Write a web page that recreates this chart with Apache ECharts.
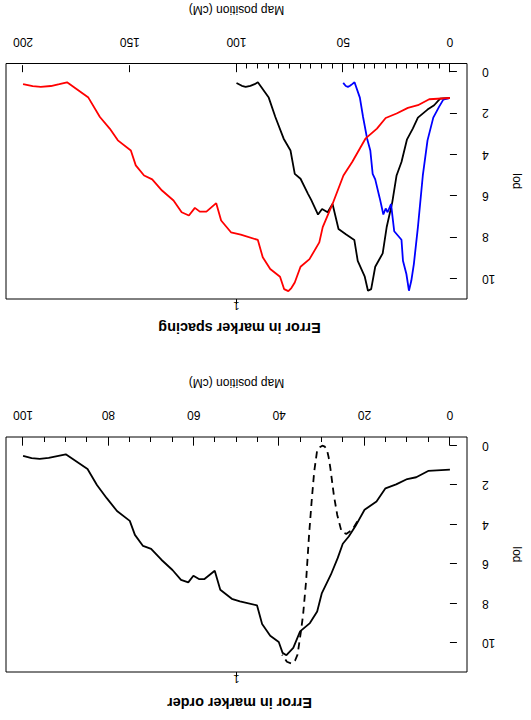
<!DOCTYPE html>
<html>
<head>
<meta charset="utf-8">
<script src="https://cdn.jsdelivr.net/npm/echarts@6/dist/echarts.min.js"></script>
<style>
  html, body { margin: 0; padding: 0; background: #fff; overflow: hidden; }
  #wrap { width: 531px; height: 720px; transform: rotate(180deg); transform-origin: 50% 50%; }
  #chart { width: 531px; height: 720px; }
</style>
</head>
<body>
<div id="wrap"><div id="chart"></div></div>
<script>
// ---------- data ----------
const markerPos = [0, 5, 10, 15, 20, 25, 30, 35, 40, 45, 50, 55, 60, 65, 70, 75, 80, 85, 90, 95, 100];
const orderXTicks = [0, 20, 40, 60, 80, 100];
const spacingXTicks = [0, 50, 100, 150, 200];
const lodTicks = [0, 2, 4, 6, 8, 10];
const chromLabel = '1';
const orderChromMid = 50;
const spacingChromMid = 100;

// Error in marker order: solid curve
const orderSolidPos = [0, 5.1, 7.9, 10, 12.6, 15.1, 17.2, 20, 22.2, 23.7, 25.1, 26.3, 27.9, 30, 31.1, 32.8, 35.1, 36.7, 38.3, 39.2, 40.1, 42.1, 44, 45.2, 49.2, 51.1, 53.8, 55.1, 57.5, 58.8, 60.1, 61.3, 63, 65, 67.6, 70, 71.9, 73.8, 75, 78, 80.4, 82.7, 84.9, 90, 92, 94, 96.1, 98, 100];
const orderSolidLod = [1.21, 1.28, 1.6, 1.69, 1.96, 2.16, 2.83, 3.25, 4.1, 4.6, 4.97, 5.7, 6.54, 7.47, 8.4, 8.99, 9.41, 10.25, 10.62, 10.5, 9.95, 9.63, 9.04, 8.09, 7.89, 7.76, 7.3, 6.34, 6.76, 6.76, 6.59, 6.93, 6.8, 6.3, 5.78, 5.23, 5.08, 4.52, 3.81, 3.31, 2.66, 1.99, 1.18, 0.44, 0.53, 0.62, 0.67, 0.63, 0.52];
// Error in marker order: dashed curve
const orderDashPos = [21.7, 22.9, 24.3, 25.4, 26.4, 27.2, 28, 28.4, 28.8, 29.3, 29.9, 30.5, 31.1, 31.8, 32.4, 33, 33.7, 34.4, 34.9, 35.7, 36.3, 37.1, 38.2, 39.3];
const orderDashLod = [3.84, 4.27, 4.47, 4.35, 3.51, 2.5, 1.15, 0.6, 0.22, 0.05, 0.0, 0.08, 0.22, 1.32, 2.83, 4.52, 6.88, 8.57, 9.41, 10.59, 10.9, 11.04, 10.95, 10.6];

// Error in marker spacing
const spacingBlackPos = [0, 4.6, 7.4, 10.5, 15, 17.4, 20.1, 22.7, 25, 27, 29.6, 31.5, 35, 36.9, 38.4, 39.9, 43.2, 44.8, 48.6, 52.2, 55, 57.3, 59.9, 61.8, 65, 66.5, 70, 72.7, 74.7, 77.9, 81.8, 84.9, 90, 91.5, 93.5, 95.7, 97.5, 100];
const spacingBlackLod = [1.25, 1.28, 1.6, 1.81, 2.2, 2.73, 3.25, 4.35, 5.0, 6.29, 7.48, 8.77, 9.42, 10.5, 10.58, 9.9, 9.13, 8.12, 7.86, 7.59, 6.38, 6.78, 6.62, 6.89, 6.18, 5.89, 5.16, 4.92, 3.79, 3.22, 2.17, 1.23, 0.49, 0.58, 0.66, 0.71, 0.66, 0.52];
const spacingBluePos = [0, 3.1, 5.1, 7.8, 10.5, 12.7, 15, 16.9, 18.1, 19.2, 20.4, 22, 22.7, 26.1, 27.6, 29.2, 30.1, 31.2, 32.7, 33.2, 35, 36.2, 37.3, 38.8, 40.7, 42.2, 44.7, 45.8, 46.8, 47.8, 48.8, 50];
const spacingBlueLod = [1.25, 1.33, 1.68, 2.2, 3.3, 5.0, 7.5, 9.29, 10.1, 10.58, 9.77, 9.13, 8.11, 7.7, 6.38, 6.78, 6.6, 6.89, 6.18, 5.97, 5.19, 4.92, 3.79, 3.22, 2.17, 1.23, 0.49, 0.58, 0.66, 0.71, 0.67, 0.52];
const spacingRedPos = [0, 9.7, 15, 19.7, 25, 30.1, 34.2, 39.6, 45.8, 49.9, 55, 59.6, 61.2, 65.8, 70, 72.7, 74.3, 75.7, 77.7, 79.6, 84.2, 87.7, 90, 98, 102.6, 107.2, 109.5, 114.1, 117.2, 119.5, 122.3, 125.7, 129.5, 134.9, 139.5, 143.3, 147.2, 149.5, 155.6, 159.4, 164, 169.4, 179.4, 183, 187, 191.7, 195.5, 200];
const spacingRedLod = [1.25, 1.31, 1.6, 1.73, 2.0, 2.22, 2.73, 3.22, 4.35, 5.0, 6.38, 7.5, 8.24, 9.05, 9.42, 10.18, 10.45, 10.6, 10.5, 9.9, 9.53, 8.96, 8.12, 7.86, 7.75, 7.18, 6.34, 6.75, 6.75, 6.57, 6.94, 6.78, 6.21, 5.73, 5.19, 5.0, 4.51, 3.79, 3.30, 2.73, 2.17, 1.23, 0.49, 0.58, 0.67, 0.71, 0.68, 0.58];

// ---------- helpers ----------
function zip(a, b) { return a.map((v, i) => [v, b[i]]); }
const FONT = "'Liberation Sans', Arial, Helvetica, sans-serif";
const txt = { color: '#000', fontFamily: FONT, fontSize: 12 };

function xAxesFor(gridIndex, min, max, ticks, mid) {
  return [
    { gridIndex, type: 'value', min, max, position: 'bottom',
      axisLine: { show: false },
      axisTick: { show: true, customValues: ticks, length: 7, lineStyle: { color: '#000', width: 1 } },
      axisLabel: Object.assign({ customValues: ticks, margin: 16 }, txt),
      splitLine: { show: false },
      name: 'Map position (cM)', nameLocation: 'middle', nameGap: 48,
      nameTextStyle: txt },
    { gridIndex, type: 'value', min, max, position: 'bottom',
      axisLine: { show: false },
      axisTick: { show: true, inside: true, customValues: markerPos, length: 5, lineStyle: { color: '#000', width: 1 } },
      axisLabel: { show: false },
      splitLine: { show: false } },
    { gridIndex, type: 'value', min, max, position: 'top',
      axisLine: { show: false },
      axisTick: { show: true, customValues: [mid], length: 5, lineStyle: { color: '#000', width: 1 } },
      axisLabel: Object.assign({ customValues: [mid], margin: 1, formatter: () => chromLabel }, txt, { fontSize: 11 }),
      splitLine: { show: false } }
  ];
}
function yAxisFor(gridIndex, min, max) {
  return { gridIndex, type: 'value', min, max, position: 'left',
    axisLine: { show: false },
    axisTick: { show: true, customValues: lodTicks, length: 7, lineStyle: { color: '#000', width: 1 } },
    axisLabel: Object.assign({ customValues: lodTicks, margin: 15 }, txt),
    splitLine: { show: false },
    name: 'lod', nameLocation: 'middle', nameGap: 44, nameRotate: 90,
    nameTextStyle: txt };
}
function line(data, color, xi, yi, dash) {
  return { type: 'line', data, xAxisIndex: xi, yAxisIndex: yi, showSymbol: false, symbol: 'none',
    smooth: false, silent: true,
    lineStyle: { color, width: 1.8, type: dash || 'solid' } };
}

const chart = echarts.init(document.getElementById('chart'), null, { renderer: 'svg' });
chart.setOption({
  animation: false,
  backgroundColor: '#fff',
  grid: [
    { left: 58, top: 48, width: 467, height: 235, show: true, borderColor: '#000', borderWidth: 1, backgroundColor: 'transparent' },
    { left: 58, top: 421, width: 467, height: 235.5, show: true, borderColor: '#000', borderWidth: 1, backgroundColor: 'transparent' }
  ],
  xAxis: [].concat(
    xAxesFor(0, -4, 104, orderXTicks, orderChromMid),
    xAxesFor(1, -8, 208, spacingXTicks, spacingChromMid)
  ),
  yAxis: [yAxisFor(0, -0.44, 11.47), yAxisFor(1, -0.42, 10.98)],
  graphic: [
    { type: 'text', x: 291.5, y: 17, style: { text: 'Error in marker order', textAlign: 'center', textVerticalAlign: 'middle', font: "bold 14.4px " + FONT, fill: '#000' } },
    { type: 'text', x: 291.5, y: 392, style: { text: 'Error in marker spacing', textAlign: 'center', textVerticalAlign: 'middle', font: "bold 14.4px " + FONT, fill: '#000' } }
  ],
  series: [
    line(zip(orderSolidPos, orderSolidLod), '#000', 0, 0),
    line(zip(orderDashPos, orderDashLod), '#000', 0, 0, [7, 5]),
    line(zip(spacingBlackPos, spacingBlackLod), '#000', 3, 1),
    line(zip(spacingBluePos, spacingBlueLod), '#0000ff', 3, 1),
    line(zip(spacingRedPos, spacingRedLod), '#ff0000', 3, 1)
  ]
});
</script>
</body>
</html>
